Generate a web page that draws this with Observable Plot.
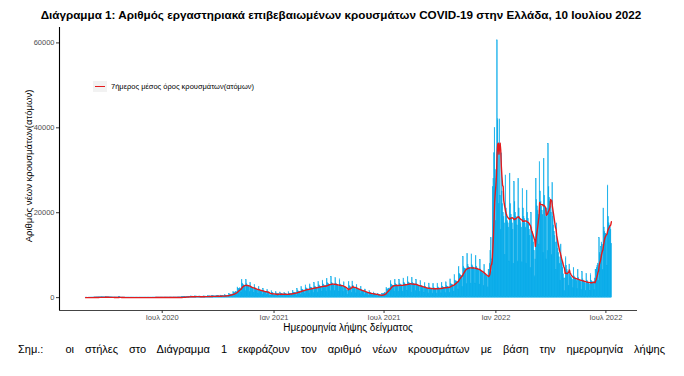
<!DOCTYPE html>
<html><head><meta charset="utf-8">
<script src="https://cdn.jsdelivr.net/npm/d3@7"></script>
<script src="https://cdn.jsdelivr.net/npm/@observablehq/plot@0.6"></script>
<style>
body{margin:0;background:#fff;font-family:"Liberation Sans",Arial,sans-serif;}
#wrap{position:relative;width:684px;height:376px;overflow:hidden;}
#chart svg{display:block;}
.abs{position:absolute;white-space:nowrap;color:#000;}
#title{left:0;width:682px;top:8px;text-align:center;font-weight:bold;font-size:11.7px;line-height:14px;}
#ytitle{left:28px;top:166px;font-size:9.5px;line-height:11px;transform:translate(-50%,-50%) rotate(-90deg);}
#xtitle{left:348px;top:327px;font-size:10px;transform:translate(-50%,-50%);}
#caption{left:18px;width:647px;top:342px;font-size:11px;line-height:14px;text-align:justify;text-align-last:justify;white-space:normal;}
#legend{left:93px;top:81px;width:14px;height:11px;background:#f2f2f2;}
#legend span{position:absolute;left:2px;top:4.7px;width:10px;height:1.6px;background:#e41a1c;}
#legtext{left:111px;top:81px;font-size:7.5px;line-height:11px;}
</style></head>
<body>
<div id="wrap">
<div id="chart"></div>
<div id="title" class="abs">Διάγραμμα 1: Αριθμός εργαστηριακά επιβεβαιωμένων κρουσμάτων COVID-19 στην Ελλάδα, 10 Ιουλίου 2022</div>
<div id="ytitle" class="abs">Αριθμός νέων κρουσμάτων(ατόμων)</div>
<div id="xtitle" class="abs">Ημερομηνία λήψης δείγματος</div>
<div id="legend" class="abs"><span></span></div>
<div id="legtext" class="abs">7ήμερος μέσος όρος κρουσμάτων(ατόμων)</div>
<div id="caption" class="abs">Σημ.:&nbsp; οι στήλες στο Διάγραμμα 1 εκφράζουν τον αριθμό νέων κρουσμάτων με βάση την ημερομηνία λήψης</div>
</div>
<script>
// Daily new cases by sample date
const feb2020 = [1,1,1,0];
const mar2020 = [0,3,2,3,12,10,13, 5,20,25,30,35,38,40, 25,60,45,55,70,65,60, 45,95,70,75,80,75,70, 50,100,85];
const apr2020 = [80,75,70,60,40,85,60, 55,50,45,35,20,30,40, 35,30,25,20,15,40,130, 90,30,25,15,10,20,15, 12,10];
const may2020 = [8,6,4,12,10,8,10, 9,6,3,12,10,9,8, 7,6,3,10,8,7,9, 6,5,3,14,10,8,7, 9,6,4];
const jun2020 = [12,10,8,9,11,7,5, 15,12,10,9,8,7,5, 20,18,14,12,16,30,10, 25,20,18,14,16,12,8, 25,20];
const jul2020 = [18,15,14,12,8,30,25, 22,20,18,15,10,35,30, 28,25,24,20,12,40,35, 30,28,30,25,15,55,50, 45,48,45];
const aug2020 = [40,25,90,110,100,120,130, 110,60,190,170,180,220,210, 200,120,280,250,240,230,220, 210,120,300,260,250,240,230, 210,110,290];
const sep2020 = [240,230,220,210,200,110,320, 260,250,240,230,210,120,380, 310,290,280,270,250,140,420, 340,320,310,290,270,150,450, 360,340];
const oct2020 = [330,320,300,160,500,400,380, 370,360,340,180,600,480,460, 450,440,420,230,900,720,700, 700,720,700,400,1300,1100,1000, 1200,1350,1300];
const nov2020 = [700,2400,2000,1950,2100,2200,2100, 1200,4200,3300,3000,2900,2800,2600, 1500,4100,3200,2900,2700,2600,2400, 1300,3500,2600,2400,2250,2150,2000, 1100,3000];
const dec2020 = [2200,2000,1900,1800,1700,900,2500, 1900,1700,1600,1500,1400,750,2100, 1600,1450,1350,1300,1200,650,1800, 1350,1200,1000,400,700,450,1500, 1150,1050,900];
const jan2021 = [400,600,350,1300,1000,700,850, 800,750,400,1200,900,850,800, 750,700,380,1150,850,800,780, 750,700,380,1300,950,900,880, 850,800,420];
const feb2021 = [1600,1200,1150,1100,1050,1000,550, 2000,1500,1450,1400,1350,1300,700, 2500,1900,1800,1700,1650,1600,850, 2900,2200,2050,1950,1900,1800,950];
const mar2021 = [3100,2400,2300,2200,2150,2050,1100, 3400,2600,2450,2350,2300,2200,1200, 3700,2900,2700,2600,2500,2400,1300, 4000,3100,2900,2300,2800,2700,1400, 4400,3400,3200];
const apr2021 = [3100,3000,2900,1500,4900,3500,3300, 3100,3000,2800,1500,4600,3300,3100, 2900,2800,2600,1400,4300,3100,2900, 2800,2600,2400,1300,3600,2600,2400, 2300,1900];
const may2021 = [1500,700,1500,3700,2700,2500,2400, 2200,1100,3800,2700,2500,2300,2200, 2000,1000,3000,2200,2000,1900,1800, 1600,800,2500,1800,1650,1550,1450, 1300,650,1900];
const jun2021 = [1350,1250,1150,1050,950,450,1500, 1100,1000,900,850,800,400,1200, 900,800,750,700,650,300,900, 650,600,550,550,520,280,900, 750,800];
const jul2021 = [900,1000,1050,600,2300,1900,1800, 2000,2100,2200,1300,3900,3100,2900, 2800,2800,2700,1400,4100,3200,3000, 2900,2800,2700,1400,4200,3200,3000, 2900,2850,2700];
const aug2021 = [1400,4500,3400,3200,3100,3000,2900, 1500,4800,3600,3400,3300,3200,3100, 1200,4600,3500,3300,3200,3100,2900, 1500,4200,3100,2900,2800,2700,2600, 1300,3900,2800];
const sep2021 = [2600,2500,2400,2300,1100,3400,2500, 2300,2200,2100,2000,1000,3300,2400, 2200,2100,2000,1900,950,3200,2300, 2150,2050,2000,1900,950,3300,2400, 2200,2150];
const oct2021 = [2100,2000,1000,3500,2600,2400,2300, 2250,2150,1050,3600,2700,2500,2450, 2400,2300,1150,4300,3200,3000,2950, 2900,2800,1400,5300,4000,3800,3700, 3800,3700,1900];
const nov2021 = [7200,5600,5300,5200,5100,5000,2500, 9600,7300,6900,6800,6700,6500,3200, 10300,7700,7200,7000,6900,6700,3300, 10200,7600,7200,7000,6800,6600,3300, 9800,7300];
const dec2021 = [6900,6700,6500,6300,3100,8900,6600, 6200,6000,5800,5600,2800,7700,5700, 5300,5100,5000,4800,2400,6500,6500, 8000,11000,14000,6000,9000,26000,28000, 34000,40000,30000];
const jan2022 = [18000,28000,60600,42000,36000,22000,42000, 24000,16000,34000,25000,22000,20000,19000, 17500,10000,28800,21000,19000,18000,17500, 16500,8500,29200,22000,19500,18500,17500, 16000,8000,27200];
const feb2022 = [22500,20000,19000,18500,17000,8500,28000, 21000,19000,18000,17500,16500,8300,25600, 21000,19000,18500,17500,16500,8000,25200, 20000,18500,17500,16000,14500,7000,20000];
const mar2022 = [16500,15500,14500,13000,11000,5000,9000, 28000,23000,21500,20500,19500,12500,31900, 25000,22500,21500,20500,19500,10500,32700, 24000,21000,19000,9000,21000,11000,36200, 26000,23500,22500];
const apr2022 = [21500,20000,10000,27000,19000,17000,15500, 14500,13000,6500,17500,13000,11500,10500, 9500,8000,4000,12500,9000,8000,7000, 5500,4500,1500,4500,9500,7500,6500, 6000,5500];
const may2022 = [2800,7800,5500,5000,4700,4500,4200, 2200,7000,5000,4600,4300,4100,3900, 2000,6500,4600,4200,4000,3800,3600, 1800,6000,4300,3900,3700,3500,3300, 1600,5600,4000];
const jun2022 = [3700,3500,3300,3100,1500,5500,4000, 3700,3600,3600,3500,1800,4500,6500, 6500,7000,7500,8000,4000,14000,10500, 10000,12000,13000,12500,6500,21000,16500, 15500,15000];
const jul2022 = [15000,14500,7500,26400,19000,17500,17000,16500,16000,12700];

// [year, month index, first day, values]
const months = [
  [2020,1,26,feb2020],[2020,2,1,mar2020],[2020,3,1,apr2020],[2020,4,1,may2020],[2020,5,1,jun2020],
  [2020,6,1,jul2020],[2020,7,1,aug2020],[2020,8,1,sep2020],[2020,9,1,oct2020],[2020,10,1,nov2020],
  [2020,11,1,dec2020],[2021,0,1,jan2021],[2021,1,1,feb2021],[2021,2,1,mar2021],[2021,3,1,apr2021],
  [2021,4,1,may2021],[2021,5,1,jun2021],[2021,6,1,jul2021],[2021,7,1,aug2021],[2021,8,1,sep2021],
  [2021,9,1,oct2021],[2021,10,1,nov2021],[2021,11,1,dec2021],[2022,0,1,jan2022],[2022,1,1,feb2022],
  [2022,2,1,mar2022],[2022,3,1,apr2022],[2022,4,1,may2022],[2022,5,1,jun2022],[2022,6,1,jul2022]
];

const xTickDates = ["2020-07-01","2021-01-01","2021-07-01","2022-01-01","2022-07-01"];
const xTickLabels = ["Ιουλ 2020","Ιαν 2021","Ιουλ 2021","Ιαν 2022","Ιουλ 2022"];
const yTicks = [0, 20000, 40000, 60000];
const xDomain = [new Date("2020-01-14"), new Date("2022-08-22")];
const yDomain = [-3030, 63630];

const data = [];
for (const [yr, mo, d0, vals] of months) {
  vals.forEach((v, i) => data.push({
    date: new Date(Date.UTC(yr, mo, d0 + i)),
    next: new Date(Date.UTC(yr, mo, d0 + i + 1)),
    cases: v
  }));
}

const chart = Plot.plot({
  width: 684, height: 376,
  marginLeft: 59, marginRight: 47, marginTop: 27, marginBottom: 66,
  style: {fontFamily: "Liberation Sans, Arial, sans-serif", background: "transparent", overflow: "visible"},
  x: {type: "utc", domain: xDomain},
  y: {domain: yDomain},
  marks: [
    Plot.rect(data, {x1: "date", x2: "next", y1: 0, y2: "cases", fill: "#00b0f0", stroke: "#06a8e6", strokeWidth: 0.45}),
    Plot.lineY(data, Plot.windowY({k: 7, anchor: "end"}, {x: "date", y: "cases", stroke: "#e41a1c", strokeWidth: 1.4})),
    Plot.ruleX([xDomain[0]], {stroke: "#000", strokeWidth: 1.1}),
    Plot.ruleY([yDomain[0]], {stroke: "#444", strokeWidth: 1.1}),
    Plot.axisX({ticks: xTickDates.map(s => new Date(s)), tickFormat: (d, i) => xTickLabels[i],
      tickSize: 3, tickPadding: 1, fontSize: 7.5, stroke: "#333", fill: "#4d4d4d", label: null}),
    Plot.axisY({ticks: yTicks, tickFormat: d => String(d), tickSize: 3, tickPadding: 2,
      fontSize: 7.5, stroke: "#333", fill: "#4d4d4d", label: null})
  ]
});
document.getElementById("chart").appendChild(chart);
</script>
</body></html>
